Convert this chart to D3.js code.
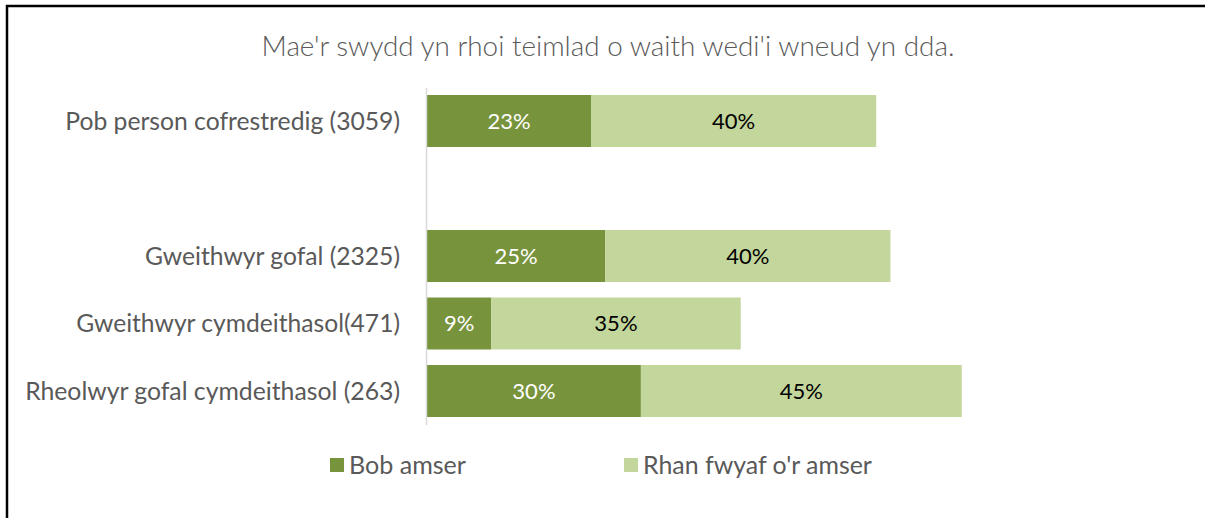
<!DOCTYPE html>
<html><head><meta charset="utf-8">
<script src="https://cdn.jsdelivr.net/npm/d3@7"></script>
<style>body{margin:0;background:#fff}svg{display:block}</style>
</head><body>
<script>
const categories = ["Pob person cofrestredig (3059)", "", "Gweithwyr gofal (2325)", "Gweithwyr cymdeithasol(471)", "Rheolwyr gofal cymdeithasol (263)"];
const bobAmser = [23, null, 25, 9, 30];
const rhanFwyaf = [40, null, 40, 35, 45];
const seriesNames = ["Bob amser", "Rhan fwyaf o'r amser"];
const title = "Mae'r swydd yn rhoi teimlad o waith wedi'i wneud yn dda.";

const W = 1205, H = 518;
const colors = ["#77933C", "#C3D69B"];
const font = "Lato, 'Open Sans', sans-serif";

const svg = d3.select("body").append("svg").attr("width", W).attr("height", H);
svg.append("rect").attr("width", W).attr("height", H).attr("fill", "#fff");
// border (top and left visible)
svg.append("path").attr("d", "M7,520 L7,6 L1210,6").attr("fill", "none").attr("stroke", "#000").attr("stroke-width", 2.5);

const x = d3.scaleLinear().domain([0, 100]).range([427, 427 + 713]);
const y = d3.scaleBand().domain(d3.range(categories.length)).range([87.25, 424.75]).paddingInner(0.23).paddingOuter(0.115);

function fit(sel, target) {
  const n = sel.node();
  const w = n.getComputedTextLength();
  const fs = parseFloat(sel.attr("font-size"));
  sel.attr("font-size", (fs * target / w).toFixed(2));
}

const t = svg.append("text").attr("x", 608).attr("y", 56).attr("text-anchor", "middle")
  .attr("font-family", font).attr("font-weight", 300).attr("font-size", 22).attr("fill", "#595959").text(title);
fit(t, 693);

const rows = categories.map((c, i) => ({i, c, a: bobAmser[i], b: rhanFwyaf[i]})).filter(d => d.a != null);

const g = svg.append("g");
rows.forEach(d => {
  const y0 = y(d.i), h = y.bandwidth();
  g.append("rect").attr("x", x(0)).attr("y", y0).attr("width", x(d.a) - x(0)).attr("height", h).attr("fill", colors[0]);
  g.append("rect").attr("x", x(d.a)).attr("y", y0).attr("width", x(d.a + d.b) - x(d.a)).attr("height", h).attr("fill", colors[1]);
  g.append("text").attr("x", (x(0) + x(d.a)) / 2).attr("y", y0 + h / 2).attr("dy", "0.36em").attr("text-anchor", "middle")
    .attr("font-family", font).attr("font-size", 22).attr("fill", "#fff").text(d.a + "%");
  g.append("text").attr("x", (x(d.a) + x(d.a + d.b)) / 2).attr("y", y0 + h / 2).attr("dy", "0.36em").attr("text-anchor", "middle")
    .attr("font-family", font).attr("font-size", 22).attr("fill", "#000").text(d.b + "%");
});

// axis
const yAxis = d3.axisLeft(y).tickSize(0).tickPadding(26).tickFormat(i => categories[i]);
const ax = svg.append("g").attr("transform", "translate(426,0)").call(yAxis);
ax.select(".domain").attr("stroke", "#d9d9d9").attr("stroke-width", 1.5);
ax.selectAll("text").attr("font-family", font).attr("font-size", 19).attr("fill", "#595959").attr("dy", "0.35em");
const lab = ax.selectAll(".tick text").nodes();
const targets = [335, 0, 255, 324, 375];
lab.forEach((n, i) => { if (targets[i]) fit(d3.select(n), targets[i]); });

// legend
const legX = [330, 624];
const legW = [117, 229];
seriesNames.forEach((s, i) => {
  svg.append("rect").attr("x", legX[i]).attr("y", 458).attr("width", 14).attr("height", 14).attr("fill", colors[i]);
  const lt = svg.append("text").attr("x", legX[i] + 19).attr("y", 465).attr("dy", "0.35em")
    .attr("font-family", font).attr("font-size", 20).attr("fill", "#595959").text(s);
  fit(lt, legW[i]);
});
</script>
</body></html>
